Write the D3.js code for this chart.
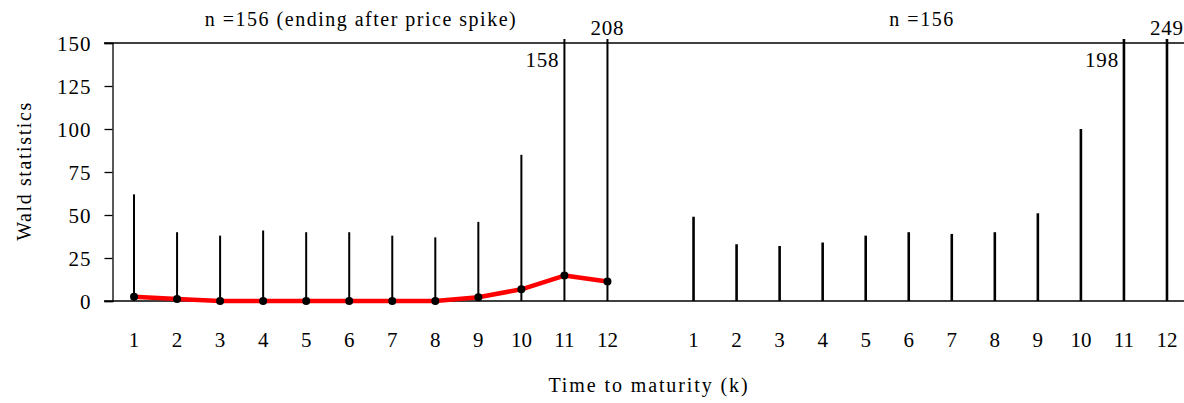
<!DOCTYPE html>
<html>
<head>
<meta charset="utf-8">
<script src="https://cdn.jsdelivr.net/npm/d3@7/dist/d3.min.js"></script>
<style>
  html, body { margin: 0; padding: 0; background: #fff; }
  svg { display: block; }
  text { font-family: "Liberation Serif", "Times New Roman", serif; fill: #000; }
</style>
</head>
<body>
<svg id="chart" width="1184" height="403"></svg>
<script>
// Time to maturity, one panel per sample
const maturities = ["1","2","3","4","5","6","7","8","9","10","11","12"];
const yTicks = [0, 25, 50, 75, 100, 125, 150];

// Wald statistics, sample ending after the price spike
const waldSpike = [62, 40, 38, 41, 40, 40, 38, 37, 46, 85, 158, 208];
// critical-value curve drawn in red for the same sample
const criticalSpike = [2.5, 1.2, 0, 0, 0, 0, 0, 0, 2.2, 6.8, 14.8, 11.3];
// Wald statistics, full sample
const waldFull = [49, 33, 32, 34, 38, 40, 39, 40, 51, 100, 198, 249];

const panelTitles = ["n =156 (ending after price spike)", "n =156"];
const xTitle = "Time to maturity (k)";
const yTitle = "Wald statistics";

const svg = d3.select("#chart");
const W = 1184;
const yTop = 43, yBottom = 301;
const axisX = 112.5;
const serif = "Liberation Serif";

// one slot per maturity, an empty slot between the two panels
const slots = maturities.map(m => "A" + m).concat(["gap"], maturities.map(m => "B" + m));
const x = d3.scaleBand().domain(slots).range([axisX, 1188.5]).padding(0);
const cx = k => x(k) + x.bandwidth() / 2;
const y = d3.scaleLinear().domain([0, 150]).range([yBottom, yTop]);
const yCap = y(150) - 4; // bars above the range stop just past the frame

// frame: top and bottom rules across the full width
svg.append("line").attr("x1", 104).attr("x2", W).attr("y1", yTop).attr("y2", yTop)
  .attr("stroke", "#000").attr("stroke-width", 1.3);
svg.append("line").attr("x1", 104).attr("x2", W).attr("y1", yBottom).attr("y2", yBottom)
  .attr("stroke", "#000").attr("stroke-width", 1.3);

// y axis
const yAxis = d3.axisLeft(y).tickValues(yTicks).tickSize(8).tickPadding(13);
const gy = svg.append("g").attr("transform", `translate(${axisX},0)`).call(yAxis);
gy.select(".domain").attr("stroke-width", 1.3);
gy.selectAll(".tick line").attr("stroke-width", 1.3);
gy.selectAll(".tick text").attr("font-size", 21).attr("font-family", serif)
  .attr("letter-spacing", 1).attr("dy", "0.34em");

// x tick labels (maturity numbers), no tick marks
const xAxis = d3.axisBottom(x).tickValues(slots.filter(s => s !== "gap"))
  .tickFormat(s => s.slice(1)).tickSize(0).tickPadding(31);
const gx = svg.append("g").attr("transform", `translate(0,${yBottom})`).call(xAxis);
gx.select(".domain").remove();
gx.selectAll(".tick text").attr("font-size", 21).attr("font-family", serif);

// vertical bars
function spikes(values, prefix, width) {
  svg.append("g").selectAll("line").data(values).join("line")
    .attr("x1", (d, i) => cx(prefix + maturities[i]))
    .attr("x2", (d, i) => cx(prefix + maturities[i]))
    .attr("y1", yBottom)
    .attr("y2", d => Math.max(y(d), yCap))
    .attr("stroke", "#000").attr("stroke-width", width);
}
spikes(waldSpike, "A", 2);
spikes(waldFull, "B", 2.6);

// red curve with markers
const line = d3.line().x((d, i) => cx("A" + maturities[i])).y(d => y(d));
svg.append("path").datum(criticalSpike).attr("d", line)
  .attr("fill", "none").attr("stroke", "#ff0000").attr("stroke-width", 4.5)
  .attr("stroke-linejoin", "round");
svg.append("g").selectAll("circle").data(criticalSpike).join("circle")
  .attr("cx", (d, i) => cx("A" + maturities[i])).attr("cy", d => y(d)).attr("r", 4)
  .attr("fill", "#000");

// values for bars that run off the scale
function offScale(values, prefix) {
  values.forEach((v, i) => {
    if (v <= 150) return;
    const k = prefix + maturities[i];
    const last = i === values.length - 1;
    svg.append("text")
      .attr("x", last ? cx(k) : cx(k) - 5)
      .attr("y", last ? y(150) - 8 : y(150) + 24)
      .attr("text-anchor", last ? "middle" : "end")
      .attr("font-size", 21)
      .attr("letter-spacing", 0.8)
      .text(v);
  });
}
offScale(waldSpike, "A");
offScale(waldFull, "B");

// panel titles
svg.append("text").attr("x", 361).attr("y", 26).attr("text-anchor", "middle")
  .attr("font-size", 20).attr("letter-spacing", 1.5).text(panelTitles[0]);
svg.append("text").attr("x", 922).attr("y", 26).attr("text-anchor", "middle")
  .attr("font-size", 20).attr("letter-spacing", 1.5).text(panelTitles[1]);

// axis titles
svg.append("text").attr("x", 649).attr("y", 392).attr("text-anchor", "middle")
  .attr("font-size", 20).attr("letter-spacing", 1.9).text(xTitle);
svg.append("text").attr("transform", "translate(31,171) rotate(-90)")
  .attr("text-anchor", "middle").attr("font-size", 20).attr("letter-spacing", 1.6).text(yTitle);
</script>
</body>
</html>
